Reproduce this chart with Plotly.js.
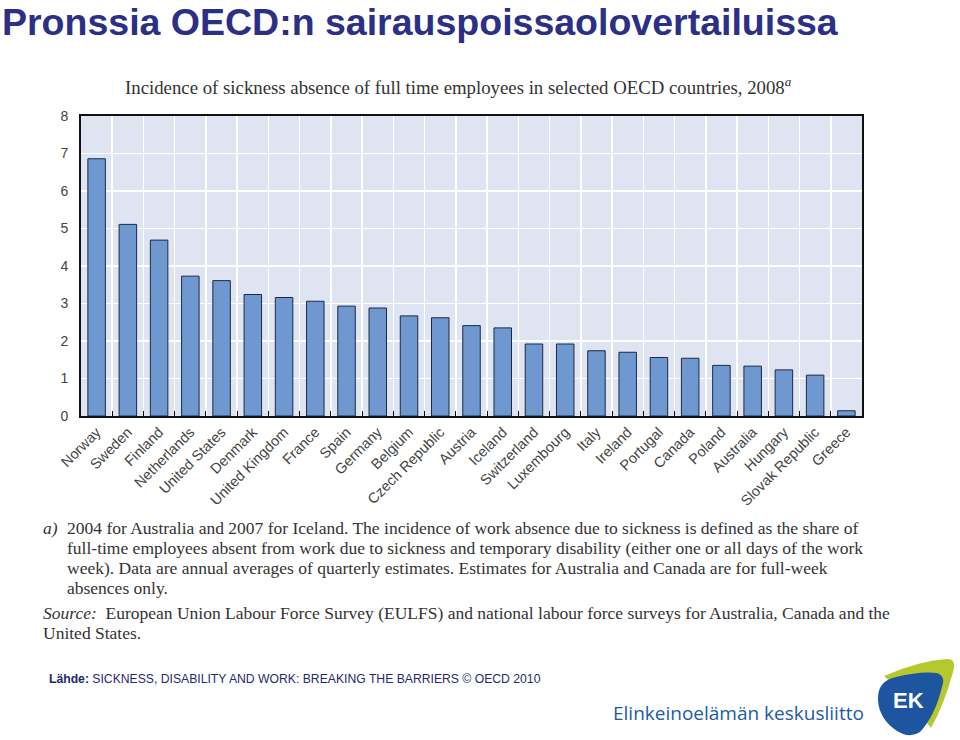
<!DOCTYPE html>
<html>
<head>
<meta charset="utf-8">
<script src="https://cdn.plot.ly/plotly-3.0.1.min.js"></script>
<style>
  html, body { margin: 0; padding: 0; background: #fff; }
  #chart { width: 960px; height: 740px; }
</style>
</head>
<body>
<div id="chart"></div>
<script>
// Incidence of sickness absence of full-time employees, OECD 2008 (% of employees)
const countries = ['Norway', 'Sweden', 'Finland', 'Netherlands', 'United States', 'Denmark',
  'United Kingdom', 'France', 'Spain', 'Germany', 'Belgium', 'Czech Republic', 'Austria',
  'Iceland', 'Switzerland', 'Luxembourg', 'Italy', 'Ireland', 'Portugal', 'Canada', 'Poland',
  'Australia', 'Hungary', 'Slovak Republic', 'Greece'];
const incidence = [6.86, 5.11, 4.69, 3.73, 3.61, 3.24, 3.16, 3.06, 2.93, 2.88, 2.67, 2.62, 2.41,
  2.35, 1.92, 1.92, 1.74, 1.70, 1.56, 1.54, 1.35, 1.33, 1.23, 1.09, 0.14];
const yTicks = [0, 1, 2, 3, 4, 5, 6, 7, 8];

const footLines = [
  '2004 for Australia and 2007 for Iceland. The incidence of work absence due to sickness is defined as the share of',
  'full-time employees absent from work due to sickness and temporary disability (either one or all days of the work',
  'week). Data are annual averages of quarterly estimates. Estimates for Australia and Canada are for full-week',
  'absences only.',
];
const sourceLines = [
  '<i>Source:</i>  European Union Labour Force Survey (EULFS) and national labour force surveys for Australia, Canada and the',
  'United States.',
];

// plot area in page pixels
const PL = 81, PR = 862, PT = 116, PB = 416;
const px = (x) => (x - PL) / (PR - PL);
const py = (y) => (PB - y) / (PB - PT);
const pathOf = (pts) => pts.map(([c, ...p]) =>
  c + ' ' + p.reduce((a, v, i) => a.concat(i % 2 ? py(v) : px(v)), []).join(' ')).join(' ') + ' Z';

const SERIF = 'Liberation Serif, DejaVu Serif, serif';
const SANS = 'Liberation Sans, Arial, sans-serif';

function note(x, y, text, font, extra) {
  return Object.assign({ xref: 'paper', yref: 'paper', x: px(x), y: py(y), text, showarrow: false,
    xanchor: 'left', yanchor: 'middle', font }, extra || {});
}

const FOOT = { family: SERIF, size: 17.5, color: '#333' };
const ann = [
  note(0, 22, '<b>Pronssia OECD:n sairauspoissaolovertailuissa</b>',
    { family: SANS, size: 37.5, color: '#2b2f86' }),
  note(123, 86, 'Incidence of sickness absence of full time employees in selected OECD countries, 2008<sup><i>a</i></sup>',
    { family: SERIF, size: 18.8, color: '#333' }),
  note(41, 528, '<i>a)</i>', FOOT),
  ...footLines.map((t, i) => note(65, 528 + 20 * i, t, FOOT)),
  ...sourceLines.map((t, i) => note(41, 613 + 20 * i, t, FOOT)),
  note(47, 679, '<b>Lähde:</b> SICKNESS, DISABILITY AND WORK: BREAKING THE BARRIERS © OECD 2010',
    { family: SANS, size: 12.2, color: '#1f2a6e' }),
  note(611, 713, 'Elinkeinoelämän keskusliitto', { family: 'Open Sans, Noto Sans, sans-serif', size: 19, color: '#1d5aa6' }),
  note(909, 700, '<b>EK</b>', { family: SANS, size: 22, color: '#fff' }, { xanchor: 'center' }),
];

const shapes = [
  { type: 'path', xref: 'paper', yref: 'paper', fillcolor: '#b5c92e', line: { width: 0 },
    path: pathOf([['M', 884, 676], ['Q', 918, 661, 947, 659], ['Q', 957, 659, 953, 672],
      ['Q', 944, 705, 931, 728], ['Q', 910, 700, 884, 676]]) },
  { type: 'path', xref: 'paper', yref: 'paper', fillcolor: '#1e55a0', line: { width: 0 },
    path: pathOf([['M', 878, 700], ['Q', 877, 681, 896, 677], ['Q', 920, 671, 937, 673],
      ['Q', 946, 676, 942, 687], ['Q', 935, 716, 920, 732], ['Q', 910, 739, 897, 731],
      ['Q', 879, 719, 878, 700]]) },
];

const trace = {
  type: 'bar', x: countries, y: incidence,
  marker: { color: '#6f98d1', line: { color: '#1b2a3f', width: 1 } },
  hoverinfo: 'x+y',
};

const layout = {
  width: 960, height: 740,
  margin: { l: PL, r: 960 - PR, t: PT, b: 740 - PB },
  paper_bgcolor: '#fff', plot_bgcolor: '#dfe4f3',
  bargap: 0.44, showlegend: false,
  xaxis: {
    type: 'category', tickson: 'boundaries', ticks: 'inside', ticklen: 5, tickcolor: '#000', tickwidth: 1,
    showgrid: true, gridcolor: '#fff', gridwidth: 1.5,
    showline: true, linecolor: '#111', linewidth: 2, mirror: true,
    tickangle: -45, tickfont: { family: SANS, size: 14.5, color: '#444' },
  },
  yaxis: {
    range: [0, 8], tickvals: yTicks, showgrid: true, gridcolor: '#fff', gridwidth: 1.5, zeroline: false,
    showline: true, linecolor: '#111', linewidth: 2, mirror: true, ticks: '', ticklabelstandoff: 8,
    tickfont: { family: SANS, size: 14, color: '#444' },
  },
  annotations: ann,
  shapes,
};

Plotly.newPlot('chart', [trace], layout, { displayModeBar: false, staticPlot: true });
</script>
</body>
</html>
